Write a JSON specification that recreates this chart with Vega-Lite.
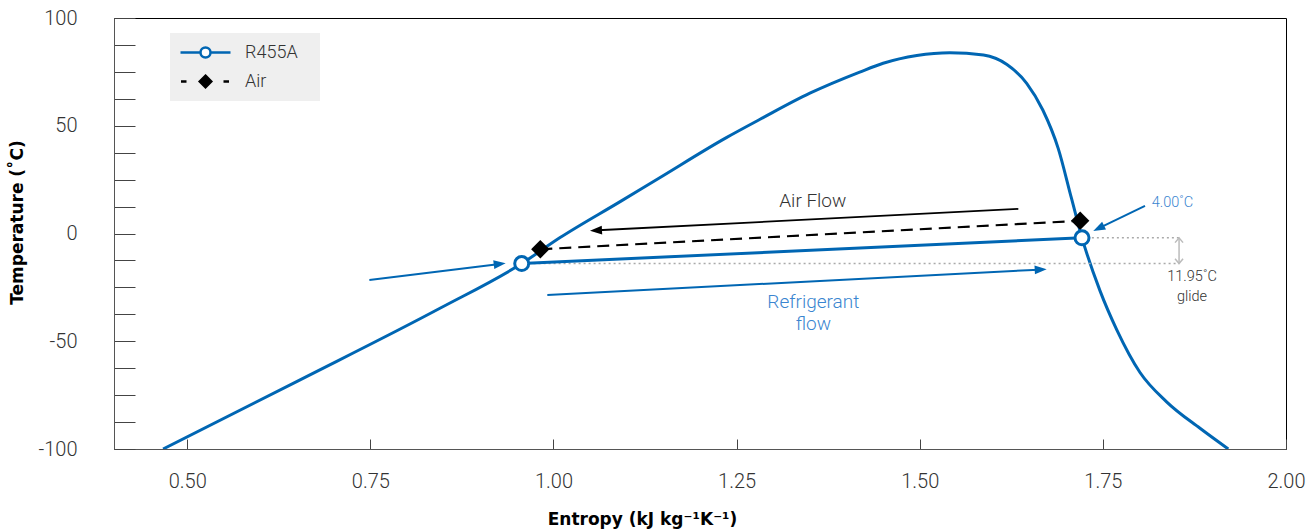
{
  "$schema": "https://vega.github.io/schema/vega-lite/v6.json",
  "width": 1172,
  "height": 431,
  "autosize": {"type": "none"},
  "padding": {"left": 114, "top": 18, "right": 29, "bottom": 83},
  "background": "white",
  "config": {
    "view": {"stroke": "#000000", "strokeWidth": 1},
    "font": "Roboto"
  },
  "datasets": {
    "curve": [
      {"s": 0.467, "T": -100},
      {"s": 0.65, "T": -68.6},
      {"s": 0.845, "T": -34.7},
      {"s": 0.9566, "T": -13.95},
      {"s": 1.009, "T": -1.9},
      {"s": 1.091, "T": 14.8},
      {"s": 1.145, "T": 25.9},
      {"s": 1.236, "T": 44.5},
      {"s": 1.282, "T": 53.0},
      {"s": 1.35, "T": 65.1},
      {"s": 1.418, "T": 74.9},
      {"s": 1.45, "T": 79.0},
      {"s": 1.496, "T": 82.6},
      {"s": 1.541, "T": 83.9},
      {"s": 1.587, "T": 82.8},
      {"s": 1.619, "T": 78.4},
      {"s": 1.646, "T": 69.7},
      {"s": 1.668, "T": 57.3},
      {"s": 1.689, "T": 39.5},
      {"s": 1.707, "T": 16.5},
      {"s": 1.7215, "T": -2.0},
      {"s": 1.746, "T": -26.5},
      {"s": 1.769, "T": -44.7},
      {"s": 1.8007, "T": -64.5},
      {"s": 1.837, "T": -78.1},
      {"s": 1.8826, "T": -90.4},
      {"s": 1.9212, "T": -100}
    ],
    "process": [
      {"series": "R455A", "s": 0.9566, "T": -13.95},
      {"series": "R455A", "s": 1.7215, "T": -2.0},
      {"series": "Air", "s": 0.982, "T": -7.3},
      {"series": "Air", "s": 1.719, "T": 5.9}
    ],
    "guides": [
      {"s": 0.966, "s2": 1.854, "T": -13.95},
      {"s": 1.735, "s2": 1.854, "T": -2.0}
    ],
    "glide": [
      {"s": 1.854, "T": -2.0, "T2": -13.95}
    ],
    "arrows": [
      {"id": "in", "s": 0.7486, "T": -21.6, "s2": 0.924, "T2": -14.3},
      {"id": "ref", "s": 0.9916, "T": -28.5, "s2": 1.6624, "T2": -16.8},
      {"id": "air", "s": 1.6346, "T": 11.4, "s2": 1.0608, "T2": 1.5},
      {"id": "out", "s": 1.8075, "T": 12.8, "s2": 1.7468, "T2": 2.8}
    ],
    "heads": [
      {"id": "in", "s": 0.9347, "T": -13.8},
      {"id": "ref", "s": 1.6733, "T": -16.6},
      {"id": "air", "s": 1.0498, "T": 1.3},
      {"id": "out", "s": 1.7369, "T": 1.2}
    ],
    "notes": [
      {"text": "Air Flow", "s": 1.354, "T": 15.2, "kind": "dark"},
      {"text": "Refrigerant", "s": 1.3547, "T": -31.6, "kind": "blue"},
      {"text": "flow", "s": 1.3547, "T": -42.0, "kind": "blue"},
      {"text": "4.00˚C", "s": 1.8167, "T": 14.0, "kind": "bluesmall"},
      {"text": "11.95˚C", "s": 1.8717, "T": -20.3, "kind": "small"},
      {"text": "glide", "s": 1.8717, "T": -29.3, "kind": "small"}
    ]
  },
  "layer": [
    {
      "data": {"name": "curve"},
      "mark": {"type": "line", "interpolate": "monotone", "color": "#0066b3", "strokeWidth": 3, "clip": true},
      "encoding": {
        "x": {
          "field": "s", "type": "quantitative",
          "scale": {"domain": [0.4, 2.0], "nice": false, "zero": false},
          "axis": {
            "title": "Entropy (kJ kg⁻¹K⁻¹)",
            "values": [0.5, 0.75, 1, 1.25, 1.5, 1.75, 2],
            "tickCount": 12,
            "format": ".2f",
            "grid": false,
            "tickSize": -10,
            "tickColor": "#444444",
            "tickOpacity": 1,
            "domainColor": "#555555",
            "labelPadding": 32,
            "labelFlush": false,
            "labelOverlap": false,
            "labelFont": "Roboto",
            "labelFontWeight": 300,
            "labelFontSize": 20,
            "labelColor": "#333333",
            "titleFont": "DejaVu Sans",
            "titleFontWeight": "bold",
            "titleFontSize": 17,
            "titleColor": "#000000",
            "titleX": 528,
            "titleY": 70,
            "titleBaseline": "middle",
            "titleAlign": "center"
          }
        },
        "y": {
          "field": "T", "type": "quantitative",
          "scale": {"domain": [-100, 100], "nice": false},
          "axis": {
            "title": "Temperature (˚C)",
            "values": [-100, -87.5, -75, -62.5, -50, -37.5, -25, -12.5, 0, 12.5, 25, 37.5, 50, 62.5, 75, 87.5, 100],
            "tickCount": 40,
            "labelExpr": "datum.value % 50 == 0 ? '' + datum.value : ''",
            "grid": false,
            "tickSize": -21,
            "tickColor": "#444444",
            "tickOpacity": 1,
            "domainColor": "#555555",
            "labelPadding": 58,
            "labelFlush": false,
            "labelOverlap": false,
            "labelFont": "Roboto",
            "labelFontWeight": 300,
            "labelFontSize": 20,
            "labelColor": "#333333",
            "titleFont": "DejaVu Sans",
            "titleFontWeight": "bold",
            "titleFontSize": 17,
            "titleColor": "#000000",
            "titleAngle": 270,
            "titleX": -97,
            "titleY": 204,
            "titleBaseline": "middle",
            "titleAlign": "center"
          }
        }
      }
    },
    {
      "data": {"name": "guides"},
      "mark": {"type": "rule", "color": "#aaaaaa", "strokeWidth": 1.5, "strokeDash": [2, 3]},
      "encoding": {
        "x": {"field": "s", "type": "quantitative"},
        "x2": {"field": "s2"},
        "y": {"field": "T", "type": "quantitative"}
      }
    },
    {
      "data": {"name": "glide"},
      "mark": {"type": "rule", "color": "#bbbbbb", "strokeWidth": 1.5},
      "encoding": {
        "x": {"field": "s", "type": "quantitative"},
        "y": {"field": "T", "type": "quantitative"},
        "y2": {"field": "T2"}
      }
    },
    {
      "data": {"name": "glide"},
      "mark": {"type": "point", "shape": "M-1,1.2L0,0L1,1.2", "size": 64, "filled": false, "stroke": "#bbbbbb", "strokeWidth": 1.5, "angle": 0, "opacity": 1},
      "encoding": {
        "x": {"field": "s", "type": "quantitative"},
        "y": {"field": "T", "type": "quantitative"}
      }
    },
    {
      "data": {"name": "glide"},
      "mark": {"type": "point", "shape": "M-1,1.2L0,0L1,1.2", "size": 64, "filled": false, "stroke": "#bbbbbb", "strokeWidth": 1.5, "angle": 180, "opacity": 1},
      "encoding": {
        "x": {"field": "s", "type": "quantitative"},
        "y": {"field": "T2", "type": "quantitative"}
      }
    },
    {
      "data": {"name": "process"},
      "transform": [{"filter": "datum.series == 'R455A'"}],
      "mark": {"type": "line", "color": "#0066b3", "strokeWidth": 3},
      "encoding": {
        "x": {"field": "s", "type": "quantitative"},
        "y": {"field": "T", "type": "quantitative"}
      }
    },
    {
      "data": {"name": "process"},
      "transform": [{"filter": "datum.series == 'Air'"}],
      "mark": {"type": "line", "color": "#000000", "strokeWidth": 2.2, "strokeDash": [12, 7]},
      "encoding": {
        "x": {"field": "s", "type": "quantitative"},
        "y": {"field": "T", "type": "quantitative"}
      }
    },
    {
      "data": {"name": "process"},
      "mark": {"type": "point", "filled": false, "size": 0, "opacity": 1},
      "encoding": {
        "x": {"field": "s", "type": "quantitative"},
        "y": {"field": "T", "type": "quantitative"},
        "color": {
          "field": "series", "type": "nominal",
          "scale": {"domain": ["R455A", "Air"], "range": ["#0066b3", "#000000"]},
          "legend": {"title": null, "orient": "none", "legendX": 56, "legendY": 15, "fillColor": "#efefef", "padding": 9, "symbolSize": 2500, "clipHeight": 21, "rowPadding": 8, "labelOffset": 13, "labelFont": "Roboto", "labelFontWeight": 300, "labelFontSize": 18, "labelColor": "#333333", "symbolStrokeWidth": 2.5, "symbolOpacity": 1, "labelExpr": "datum.label + '⠀ '"}
        },
        "fill": {
          "field": "series", "type": "nominal",
          "scale": {"domain": ["R455A", "Air"], "range": ["#ffffff", "#000000"]},
          "legend": {"title": null, "orient": "none", "legendX": 56, "legendY": 15, "fillColor": "#efefef", "padding": 9, "symbolSize": 2500, "clipHeight": 21, "rowPadding": 8, "labelOffset": 13, "labelFont": "Roboto", "labelFontWeight": 300, "labelFontSize": 18, "labelColor": "#333333", "symbolStrokeWidth": 2.5, "symbolOpacity": 1, "labelExpr": "datum.label + '⠀ '"}
        },
        "shape": {
          "field": "series", "type": "nominal",
          "scale": {"domain": ["R455A", "Air"], "range": ["M-1,0L-0.2,0M0.2,0L1,0M-0.2,0A0.2,0.2 0 1,0 0.2,0A0.2,0.2 0 1,0 -0.2,0Z", "M-0.98,0L-0.76,0M0.72,0L0.94,0M0,-0.23L0.23,0L0,0.23L-0.23,0Z"]},
          "legend": {"title": null, "orient": "none", "legendX": 56, "legendY": 15, "fillColor": "#efefef", "padding": 9, "symbolSize": 2500, "clipHeight": 21, "rowPadding": 8, "labelOffset": 13, "labelFont": "Roboto", "labelFontWeight": 300, "labelFontSize": 18, "labelColor": "#333333", "symbolStrokeWidth": 2.5, "symbolOpacity": 1, "labelExpr": "datum.label + '⠀ '"}
        }
      }
    },
    {
      "data": {"name": "arrows"},
      "transform": [{"filter": "datum.id != 'air'"}],
      "mark": {"type": "rule", "color": "#0066b3", "strokeWidth": 2},
      "encoding": {
        "x": {"field": "s", "type": "quantitative"},
        "y": {"field": "T", "type": "quantitative"},
        "x2": {"field": "s2"},
        "y2": {"field": "T2"}
      }
    },
    {
      "data": {"name": "arrows"},
      "transform": [{"filter": "datum.id == 'air'"}],
      "mark": {"type": "rule", "color": "#000000", "strokeWidth": 1.8},
      "encoding": {
        "x": {"field": "s", "type": "quantitative"},
        "y": {"field": "T", "type": "quantitative"},
        "x2": {"field": "s2"},
        "y2": {"field": "T2"}
      }
    },
    {
      "data": {"name": "heads"},
      "transform": [{"filter": "datum.id == 'in'"}],
      "mark": {"type": "point", "shape": "M0,0L-1.1,3L1.1,3Z", "size": 64, "filled": true, "color": "#0066b3", "angle": 83, "opacity": 1},
      "encoding": {"x": {"field": "s", "type": "quantitative"}, "y": {"field": "T", "type": "quantitative"}}
    },
    {
      "data": {"name": "heads"},
      "transform": [{"filter": "datum.id == 'ref'"}],
      "mark": {"type": "point", "shape": "M0,0L-1.1,3L1.1,3Z", "size": 64, "filled": true, "color": "#0066b3", "angle": 87, "opacity": 1},
      "encoding": {"x": {"field": "s", "type": "quantitative"}, "y": {"field": "T", "type": "quantitative"}}
    },
    {
      "data": {"name": "heads"},
      "transform": [{"filter": "datum.id == 'air'"}],
      "mark": {"type": "point", "shape": "M0,0L-1.1,3L1.1,3Z", "size": 64, "filled": true, "color": "#000000", "angle": 267, "opacity": 1},
      "encoding": {"x": {"field": "s", "type": "quantitative"}, "y": {"field": "T", "type": "quantitative"}}
    },
    {
      "data": {"name": "heads"},
      "transform": [{"filter": "datum.id == 'out'"}],
      "mark": {"type": "point", "shape": "M0,0L-1.1,3L1.1,3Z", "size": 64, "filled": true, "color": "#0066b3", "angle": 244, "opacity": 1},
      "encoding": {"x": {"field": "s", "type": "quantitative"}, "y": {"field": "T", "type": "quantitative"}}
    },
    {
      "data": {"name": "process"},
      "transform": [{"filter": "datum.series == 'Air'"}],
      "mark": {"type": "point", "shape": "diamond", "size": 340, "filled": true, "color": "#000000", "opacity": 1},
      "encoding": {"x": {"field": "s", "type": "quantitative"}, "y": {"field": "T", "type": "quantitative"}}
    },
    {
      "data": {"name": "process"},
      "transform": [{"filter": "datum.series == 'R455A'"}],
      "mark": {"type": "point", "shape": "circle", "size": 196, "filled": true, "fill": "#ffffff", "stroke": "#0066b3", "strokeWidth": 3, "opacity": 1},
      "encoding": {"x": {"field": "s", "type": "quantitative"}, "y": {"field": "T", "type": "quantitative"}}
    },
    {
      "data": {"name": "notes"},
      "transform": [{"filter": "datum.kind == 'dark'"}],
      "mark": {"type": "text", "font": "Roboto", "fontWeight": 300, "fontSize": 19, "color": "#333333", "align": "center", "baseline": "middle"},
      "encoding": {"x": {"field": "s", "type": "quantitative"}, "y": {"field": "T", "type": "quantitative"}, "text": {"field": "text"}}
    },
    {
      "data": {"name": "notes"},
      "transform": [{"filter": "datum.kind == 'blue'"}],
      "mark": {"type": "text", "font": "Roboto", "fontWeight": 300, "fontSize": 19, "color": "#3a85d0", "align": "center", "baseline": "middle"},
      "encoding": {"x": {"field": "s", "type": "quantitative"}, "y": {"field": "T", "type": "quantitative"}, "text": {"field": "text"}}
    },
    {
      "data": {"name": "notes"},
      "transform": [{"filter": "datum.kind == 'bluesmall'"}],
      "mark": {"type": "text", "font": "Roboto", "fontWeight": 300, "fontSize": 14.5, "color": "#3a85d0", "align": "left", "baseline": "middle"},
      "encoding": {"x": {"field": "s", "type": "quantitative"}, "y": {"field": "T", "type": "quantitative"}, "text": {"field": "text"}}
    },
    {
      "data": {"name": "notes"},
      "transform": [{"filter": "datum.kind == 'small'"}],
      "mark": {"type": "text", "font": "Roboto", "fontWeight": 300, "fontSize": 14.5, "color": "#333333", "align": "center", "baseline": "middle"},
      "encoding": {"x": {"field": "s", "type": "quantitative"}, "y": {"field": "T", "type": "quantitative"}, "text": {"field": "text"}}
    }
  ]
}
